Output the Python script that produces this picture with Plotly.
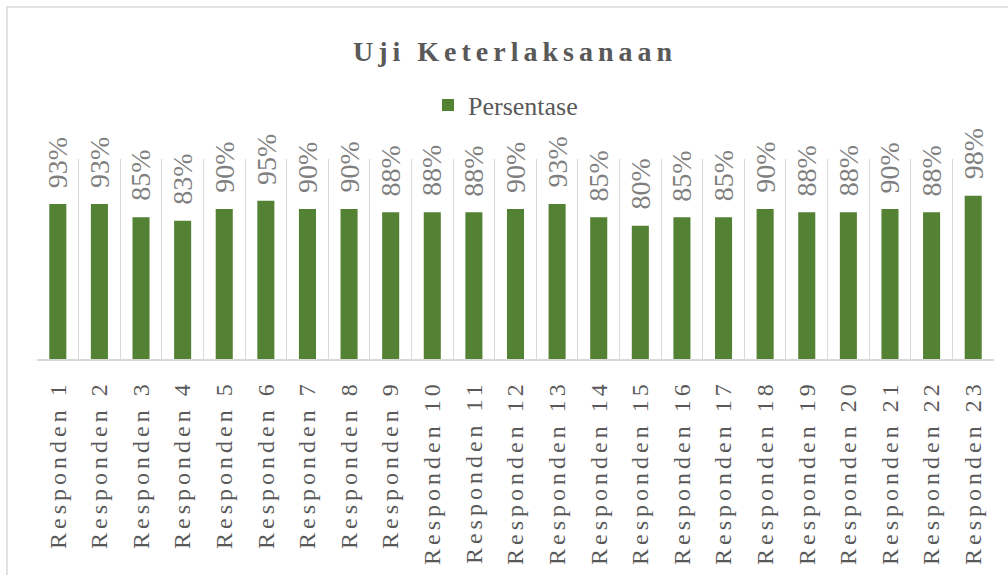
import plotly.graph_objects as go

categories = [f"Responden {i}" for i in range(1, 24)]
values = [0.93, 0.93, 0.85, 0.83, 0.90, 0.95, 0.90, 0.90, 0.88, 0.88, 0.88, 0.90,
          0.93, 0.85, 0.80, 0.85, 0.85, 0.90, 0.88, 0.88, 0.90, 0.88, 0.98]
labels = [f"{round(v * 100)}%" for v in values]
series_name = "Persentase"
title_text = "Uji Keterlaksanaan"

W, H = 1008, 575
L, R, T, B = 37, 14, 159, 216
pw, ph = W - L - R, H - T - B

fig = go.Figure()
fig.add_trace(go.Bar(
    x=categories, y=values, name=series_name,
    marker=dict(color="#548235", line=dict(width=0)),
    showlegend=True, hoverinfo="x+y",
))

for c, v, t in zip(categories, values, labels):
    fig.add_annotation(
        x=c, y=v, xref="x", yref="y", text=t, showarrow=False,
        textangle=-90, yanchor="bottom", xanchor="center", yshift=14,
        font=dict(family="Liberation Serif", size=28, color="#7f7f7f"),
    )

def px_x(p):
    return (p - L) / pw

def px_y(p):
    return (H - B - p) / ph

fig.add_shape(type="rect", xref="paper", yref="paper",
              x0=px_x(7), x1=px_x(1012), y0=px_y(580), y1=px_y(7),
              line=dict(color="#d9d9d9", width=1.5), fillcolor="rgba(0,0,0,0)", layer="below")

fig.update_layout(
    width=W, height=H,
    margin=dict(l=L, r=R, t=T, b=B),
    paper_bgcolor="white", plot_bgcolor="white",
    title=dict(text=f"<b>{title_text}</b>", x=px_x(526), xanchor="center",
               y=1 - 51 / H, yanchor="middle", yref="container",
               font=dict(family="Liberation Serif", size=28, color="#595959")),
    legend=dict(orientation="h", x=px_x(428), xanchor="left", y=px_y(105), yanchor="middle",
                font=dict(family="Liberation Serif", size=26, color="#595959"),
                itemwidth=30, bgcolor="rgba(0,0,0,0)"),
    bargap=0.59,
    xaxis=dict(tickson="boundaries", showgrid=True, gridcolor="#d9d9d9", gridwidth=1,
               showline=True, linecolor="#d9d9d9", linewidth=1.5, ticks="",
               tickangle=-90, ticklabelstandoff=10,
               tickfont=dict(family="Liberation Serif", size=24, color="#595959"),
               range=[-0.5, len(categories) - 0.5], fixedrange=True),
    yaxis=dict(range=[0, 1.2], visible=False, showgrid=False, fixedrange=True),
)

css = ("body{margin:0;} .xtick text{letter-spacing:4px;} "
       ".gtitle{letter-spacing:5px;}")
post = ("var s=document.createElement('style');s.innerHTML='" + css + "';"
        "document.head.appendChild(s);document.body.style.margin='0';")
fig.write_html("out.html", post_script=post, config={"displayModeBar": False})
